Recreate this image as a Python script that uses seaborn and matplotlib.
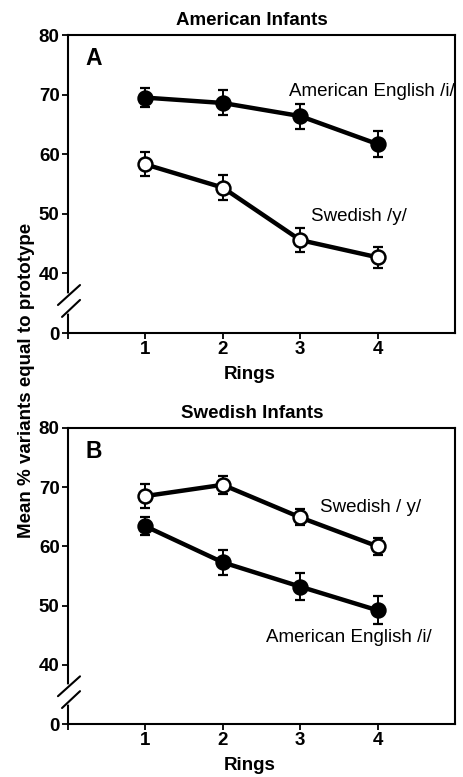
import numpy as np
import pandas as pd
import seaborn as sns
import matplotlib.pyplot as plt

# data (mean %, +/- error bar half length)
rings = [1, 2, 3, 4]

a_english = [69.5, 68.6, 66.4, 61.7]
a_english_err = [1.6, 2.1, 2.1, 2.2]
a_swedish = [58.3, 54.4, 45.6, 42.7]
a_swedish_err = [2.0, 2.1, 2.0, 1.8]

b_swedish = [68.5, 70.4, 64.9, 60.0]
b_swedish_err = [2.1, 1.5, 1.35, 1.4]
b_english = [63.4, 57.3, 53.2, 49.2]
b_english_err = [1.55, 2.1, 2.25, 2.35]

ytick_vals = [30, 40, 50, 60, 70, 80]   # 30 stands for the broken "0"
ytick_labels = ["0", "40", "50", "60", "70", "80"]

sns.set_style("ticks")
plt.rcParams['font.family'] = ['Liberation Sans', 'DejaVu Sans']
plt.rcParams['font.weight'] = 'bold'
plt.rcParams['text.color'] = 'black'
plt.rcParams['axes.labelcolor'] = 'black'

fig = plt.figure(figsize=(4.64, 7.77), dpi=100)
axA = fig.add_axes([0.1466, 0.5714, 0.834, 0.3835])
axB = fig.add_axes([0.1466, 0.0682, 0.834, 0.381])


def series(ax, y, err, filled):
    ax.errorbar(rings, y, yerr=err, fmt='none', ecolor='black',
                elinewidth=1.4, capsize=3.5, capthick=1.6, zorder=3)
    sns.lineplot(x=rings, y=y, ax=ax, color='black', lw=3.2, marker='o',
                 markersize=10, markeredgewidth=1.8, markeredgecolor='black',
                 markerfacecolor='black' if filled else 'white', zorder=4)


def setup(ax, letter, title):
    ax.set_xlim(0, 5)
    ax.set_ylim(30, 80)
    ax.set_xticks([0, 1, 2, 3, 4])
    ax.set_xticklabels(["", "1", "2", "3", "4"])
    ax.set_yticks(ytick_vals)
    ax.set_yticklabels(ytick_labels)
    ax.tick_params(direction='out', length=4, width=1.3, labelsize=13.5, pad=2,
                   colors='black', labelcolor='black')
    for lab in ax.get_xticklabels() + ax.get_yticklabels():
        lab.set_fontweight('bold')
    for s in ax.spines.values():
        s.set_visible(True)
        s.set_linewidth(1.5)
        s.set_color('black')
    ax.set_xlabel("")
    ax.set_ylabel("")
    ax.text(0.22, 76, letter, fontsize=16.5, fontweight='bold', va='center', ha='left')
    ax.text(0.475, 1.05, title, transform=ax.transAxes, fontsize=13.5,
            fontweight='bold', ha='center', va='center')
    ax.text(0.47, -0.14, "Rings", transform=ax.transAxes, fontsize=13.5,
            fontweight='bold', ha='center', va='center')
    # axis break on the left spine
    ax.plot([0, 0], [33.7, 36.2], color='white', lw=4, clip_on=False, zorder=6)
    ax.plot([-0.026, 0.031], [0.094, 0.161], transform=ax.transAxes,
            color='black', lw=1.5, clip_on=False, zorder=7)
    ax.plot([-0.0155, 0.031], [0.054, 0.111], transform=ax.transAxes,
            color='black', lw=1.5, clip_on=False, zorder=7)


series(axA, a_english, a_english_err, True)
series(axA, a_swedish, a_swedish_err, False)
setup(axA, "A", "American Infants")
axA.text(2.86, 70.6, "American English /i/", fontsize=13.5, fontweight='normal',
         ha='left', va='center', clip_on=False)
axA.text(3.14, 49.6, "Swedish /y/", fontsize=13.5, fontweight='normal',
         ha='left', va='center')

series(axB, b_swedish, b_swedish_err, False)
series(axB, b_english, b_english_err, True)
setup(axB, "B", "Swedish Infants")
axB.text(3.25, 66.6, "Swedish / y/", fontsize=13.5, fontweight='normal',
         ha='left', va='center')
axB.text(2.56, 44.6, "American English /i/", fontsize=13.5, fontweight='normal',
         ha='left', va='center')

fig.text(27 / 464, 1 - 380 / 777, "Mean % variants equal to prototype",
         rotation=90, fontsize=13.5, fontweight='bold', ha='center', va='center')

fig.savefig("out.png", dpi=100)
